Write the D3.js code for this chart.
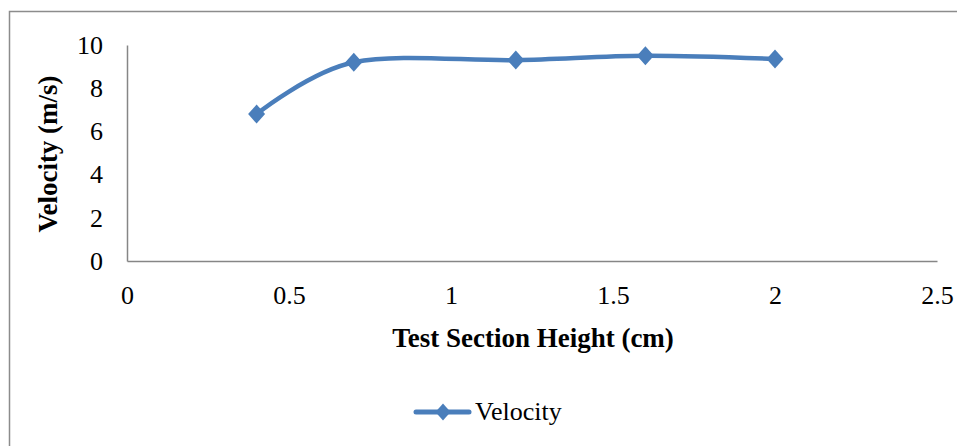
<!DOCTYPE html>
<html>
<head>
<meta charset="utf-8">
<script src="https://cdn.jsdelivr.net/npm/d3@7"></script>
<style>
  body { margin: 0; background: #fff; }
  text { font-family: "Liberation Serif", "Times New Roman", serif; fill: #000; }
</style>
</head>
<body>
<div id="chart"></div>
<script>
// chart data
var heights = [0.4, 0.7, 1.2, 1.6, 2.0];
var velocity = [6.8, 9.2, 9.3, 9.5, 9.35];
var xTicks = [0, 0.5, 1, 1.5, 2, 2.5];
var yTicks = [0, 2, 4, 6, 8, 10];
var seriesName = "Velocity";

var width = 957, height = 446;
var lineColor = "#4a7ebb";

var svg = d3.select("#chart").append("svg")
    .attr("width", width)
    .attr("height", height);

// outer chart frame (runs off the right and bottom edges)
svg.append("rect")
    .attr("x", 9.5).attr("y", 11.5)
    .attr("width", 1000).attr("height", 500)
    .attr("fill", "none")
    .attr("stroke", "#8c8c8c")
    .attr("stroke-width", 1.5);

var x = d3.scaleLinear().domain([0, 2.5]).range([127, 937]);
var y = d3.scaleLinear().domain([0, 10]).range([261, 45]);

// axes
var xAxis = svg.append("g")
    .attr("transform", "translate(0," + y(0) + ")")
    .call(d3.axisBottom(x).tickValues(xTicks).tickSize(0).tickPadding(25)
        .tickFormat(function(d) { return d3.format("")(d); }));
xAxis.select(".domain").attr("stroke", "#868686").attr("stroke-width", 1.5);
xAxis.selectAll("text").style("font-size", "26px").attr("dy", "0.71em");

var yAxis = svg.append("g")
    .attr("transform", "translate(" + x(0) + ",0)")
    .call(d3.axisLeft(y).tickValues(yTicks).tickSize(0).tickPadding(24));
yAxis.select(".domain").attr("stroke", "#868686").attr("stroke-width", 1.5);
yAxis.selectAll("text").style("font-size", "26px");

// axis titles
svg.append("text")
    .attr("x", 533).attr("y", 347)
    .attr("text-anchor", "middle")
    .style("font-size", "27px").style("font-weight", "bold")
    .text("Test Section Height (cm)");

svg.append("text")
    .attr("transform", "translate(57,154) rotate(-90)")
    .attr("text-anchor", "middle")
    .style("font-size", "27px").style("font-weight", "bold")
    .text("Velocity (m/s)");

// smoothed series line
var pts = heights.map(function(h, i) { return [h, velocity[i]]; });
var line = d3.line()
    .x(function(d) { return x(d[0]); })
    .y(function(d) { return y(d[1]); })
    .curve(d3.curveCardinal.tension(0));

svg.append("path")
    .datum(pts)
    .attr("d", line)
    .attr("fill", "none")
    .attr("stroke", lineColor)
    .attr("stroke-width", 4.5)
    .attr("stroke-linecap", "round");

function diamond(cx, cy, w, h) {
    return "M" + cx + "," + (cy - h / 2) + "L" + (cx + w / 2) + "," + cy +
        "L" + cx + "," + (cy + h / 2) + "L" + (cx - w / 2) + "," + cy + "Z";
}

svg.selectAll(".marker")
    .data(pts)
    .enter()
    .append("path")
    .attr("class", "marker")
    .attr("d", function(d) { return diamond(x(d[0]), y(d[1]), 17, 19); })
    .attr("fill", lineColor);

// legend
var legend = svg.append("g");
legend.append("line")
    .attr("x1", 416).attr("x2", 469)
    .attr("y1", 412).attr("y2", 412)
    .attr("stroke", lineColor)
    .attr("stroke-width", 5)
    .attr("stroke-linecap", "round");
legend.append("path")
    .attr("d", diamond(443, 412, 15, 17))
    .attr("fill", lineColor);
legend.append("text")
    .attr("x", 475).attr("y", 420)
    .style("font-size", "26px")
    .text(seriesName);
</script>
</body>
</html>
